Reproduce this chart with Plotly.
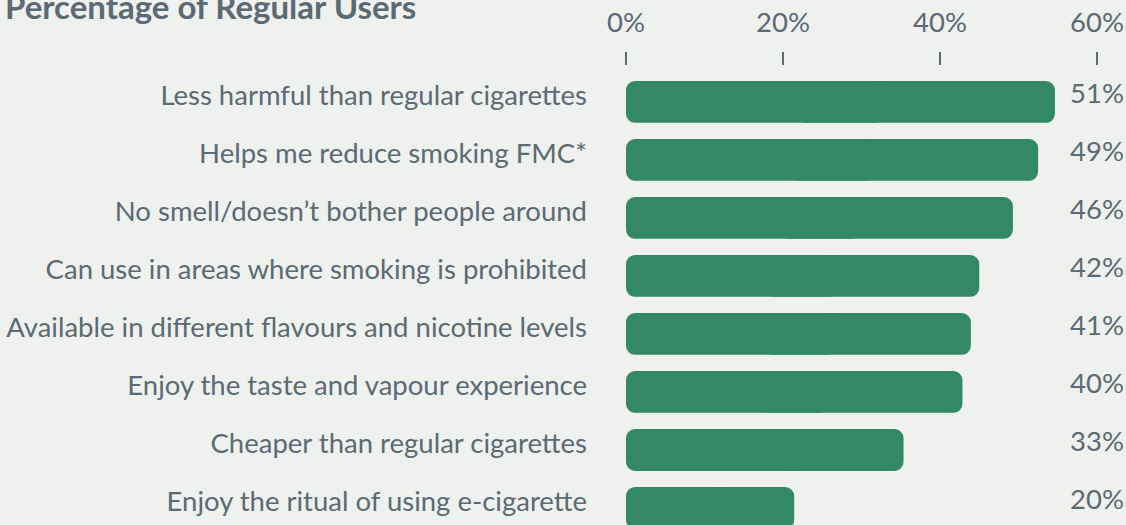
import plotly.graph_objects as go

categories = [
    "Less harmful than regular cigarettes",
    "Helps me reduce smoking FMC*",
    "No smell/doesn’t bother people around",
    "Can use in areas where smoking is prohibited",
    "Available in different flavours and nicotine levels",
    "Enjoy the taste and vapour experience",
    "Cheaper than regular cigarettes",
    "Enjoy the ritual of using e-cigarette",
]
values = [51, 49, 46, 42, 41, 40, 33, 20]
tick_vals = [0, 20, 40, 60]
tick_text = ["0%", "20%", "40%", "60%"]
labels = [f"{v}%" for v in values]

BG = "#eff1ee"
TXT = "#5b6a73"
GREEN = "#338866"
FONT = "Lato"
FS = 27.5

Y_RANGE = [7.293, -0.62]
LABEL_SHIFT = 6 / 58  # value labels sit slightly above bar centres

# Bars are drawn as two overlapping halves so that both ends get rounded corners
right_base = [v * 0.4 for v in values]
right_len = [v - b for v, b in zip(values, right_base)]
left_base = [v * 0.6 for v in values]
left_len = [-b for b in left_base]

fig = go.Figure()
fig.add_trace(go.Bar(
    x=right_len, base=right_base, y=categories, orientation="h",
    marker=dict(color=GREEN, line=dict(width=0)),
    xaxis="x", yaxis="y", hoverinfo="skip",
))
fig.add_trace(go.Bar(
    x=left_len, base=left_base, y=categories, orientation="h",
    marker=dict(color=GREEN, line=dict(width=0)),
    xaxis="x", yaxis="y", hoverinfo="skip",
))
fig.add_trace(go.Scatter(
    x=[60] * len(categories), y=categories, mode="text",
    text=labels, textposition="middle center",
    textfont=dict(family=FONT, size=FS, color=TXT),
    xaxis="x2", yaxis="y2", cliponaxis=False, hoverinfo="skip",
))

fig.update_layout(
    width=1126, height=525,
    margin=dict(l=626, r=29, t=66, b=0),
    paper_bgcolor=BG, plot_bgcolor=BG,
    showlegend=False,
    barmode="overlay",
    bargap=0.28,
    barcornerradius=9,
    font=dict(family=FONT, color=TXT),
    xaxis=dict(range=[0, 56], visible=False, fixedrange=True),
    xaxis2=dict(
        range=[0, 60], overlaying="x", side="top", anchor="y",
        tickvals=tick_vals, ticktext=tick_text,
        ticks="outside", ticklen=13, tickwidth=2, tickcolor=TXT,
        ticklabelstandoff=9,
        tickfont=dict(family=FONT, size=FS, color=TXT),
        showgrid=False, zeroline=False, showline=False,
    ),
    yaxis=dict(
        type="category", categoryorder="array", categoryarray=categories,
        range=Y_RANGE,
        showgrid=False, zeroline=False, showline=False, ticks="",
        ticklabelstandoff=38, ticklabelshift=7,
        tickfont=dict(family=FONT, size=FS, color=TXT),
    ),
    yaxis2=dict(
        type="category", categoryorder="array", categoryarray=categories,
        range=[Y_RANGE[0] + LABEL_SHIFT, Y_RANGE[1] + LABEL_SHIFT],
        overlaying="y", visible=False,
    ),
    annotations=[dict(
        text="<b>Percentage of Regular Users</b>",
        xref="paper", yref="paper", x=-623 / 471, y=(525 - 6) / 459,
        xanchor="left", yanchor="middle", showarrow=False,
        font=dict(family=FONT, size=33, color=TXT),
    )],
)

fig.write_html(
    "out.html",
    config={"displayModeBar": False},
    post_script="document.body.style.margin='0';document.body.style.overflow='hidden';",
)
